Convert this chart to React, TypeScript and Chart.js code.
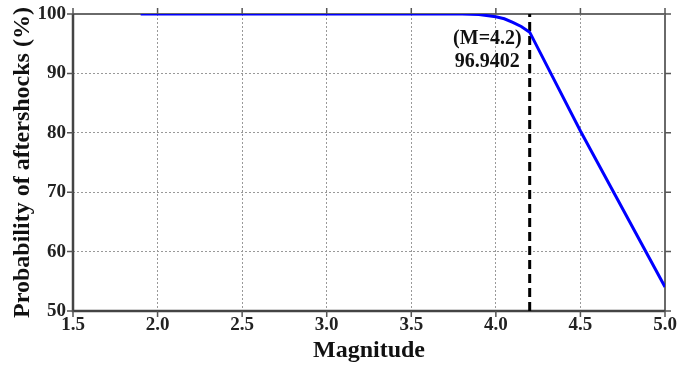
import React, { useEffect, useRef } from "react";
import { Chart, registerables } from "chart.js";

Chart.register(...registerables);

// Data
const magnitudes = [1.9, 2.5, 3.0, 3.5, 3.7, 3.8, 3.9, 4.0, 4.05, 4.1, 4.15, 4.2, 4.5, 5.0];
const probabilities = [100, 100, 100, 100, 100, 99.98, 99.9, 99.55, 99.2, 98.6, 97.9, 96.94, 80.3, 54.05];
const markerMagnitude = 4.2;
const markerRange = [50, 100];
const annotationLines = ["(M=4.2)", "96.9402"];
const xTicks = [1.5, 2.0, 2.5, 3.0, 3.5, 4.0, 4.5, 5.0];
const yTicks = [50, 60, 70, 80, 90, 100];

const SERIF = "'Liberation Serif', 'Times New Roman', serif";

const framePlugin = {
  id: "frame",
  beforeDatasetsDraw(chart: any) {
    const { ctx, chartArea: a, scales } = chart;
    const xs = scales.x;
    const ys = scales.y;
    ctx.save();
    ctx.lineWidth = 2;
    ctx.strokeStyle = "#6a6a6a";
    ctx.beginPath();
    ctx.moveTo(a.left, a.top);
    ctx.lineTo(a.right, a.top);
    ctx.lineTo(a.right, a.bottom);
    ctx.stroke();
    ctx.strokeStyle = "#444";
    ctx.lineWidth = 2.5;
    ctx.beginPath();
    ctx.moveTo(a.left, a.top);
    ctx.lineTo(a.left, a.bottom);
    ctx.lineTo(a.right, a.bottom);
    ctx.stroke();
    ctx.lineWidth = 1.5;
    ctx.strokeStyle = "#555";
    const L = 6;
    ctx.beginPath();
    xTicks.forEach((v) => {
      const px = xs.getPixelForValue(v);
      ctx.moveTo(px, a.bottom);
      ctx.lineTo(px, a.bottom + L);
      ctx.moveTo(px, a.top);
      ctx.lineTo(px, a.top - L);
    });
    yTicks.forEach((v) => {
      const py = ys.getPixelForValue(v);
      ctx.moveTo(a.left, py);
      ctx.lineTo(a.left - L, py);
      ctx.moveTo(a.right, py);
      ctx.lineTo(a.right + L, py);
    });
    ctx.stroke();
    ctx.restore();
  },
  afterDraw(chart: any) {
    const { ctx, scales } = chart;
    const xs = scales.x;
    const ys = scales.y;
    ctx.save();
    ctx.fillStyle = "#111";
    ctx.font = `bold 20px ${SERIF}`;
    ctx.textAlign = "right";
    ctx.textBaseline = "middle";
    const tx = xs.getPixelForValue(markerMagnitude) - 8;
    ctx.fillText(annotationLines[0], tx, ys.getPixelForValue(95.8));
    ctx.fillText(annotationLines[1], tx - 2, ys.getPixelForValue(91.9));
    ctx.restore();
  },
};

export default function App() {
  const ref = useRef<HTMLCanvasElement | null>(null);
  useEffect(() => {
    document.body.style.margin = "0";
    const canvas = ref.current;
    if (!canvas) return;
    const chart = new Chart(canvas, {
      type: "line",
      data: {
        datasets: [
          {
            data: magnitudes.map((m, i) => ({ x: m, y: probabilities[i] })),
            borderColor: "#0000ff",
            borderWidth: 3,
            pointRadius: 0,
            tension: 0,
            fill: false,
          },
          {
            data: markerRange.map((v) => ({ x: markerMagnitude, y: v })),
            borderColor: "#000",
            borderWidth: 3,
            borderDash: [9, 5],
            pointRadius: 0,
            fill: false,
          },
        ],
      },
      options: {
        animation: false,
        responsive: false,
        devicePixelRatio: 1,
        layout: { padding: { top: 14, right: 13, left: 0, bottom: 0 } },
        plugins: { legend: { display: false }, tooltip: { enabled: false } },
        scales: {
          x: {
            type: "linear",
            min: 1.5,
            max: 5.0,
            afterBuildTicks: (s: any) => {
              s.ticks = xTicks.map((v) => ({ value: v }));
            },
            afterFit: (s: any) => {
              s.height = 55;
              s.paddingLeft = 0;
              s.paddingRight = 0;
            },
            ticks: {
              callback: (v: any) => Number(v).toFixed(1),
              font: { family: SERIF, size: 19, weight: "bold" },
              color: "#222",
              padding: 3,
              maxRotation: 0,
            },
            grid: { color: "#999", lineWidth: 1, drawTicks: false },
            border: { display: false, dash: [2, 2] },
            title: {
              display: true,
              text: "Magnitude",
              font: { family: SERIF, size: 24, weight: "bold" },
              color: "#111",
              padding: { top: 0, bottom: 1 },
            },
          },
          y: {
            type: "linear",
            min: 50,
            max: 100,
            afterBuildTicks: (s: any) => {
              s.ticks = yTicks.map((v) => ({ value: v }));
            },
            afterFit: (s: any) => {
              s.width = 73;
              s.paddingTop = 0;
              s.paddingBottom = 0;
            },
            ticks: {
              font: { family: SERIF, size: 19, weight: "bold" },
              color: "#222",
              padding: 7,
            },
            grid: { color: "#999", lineWidth: 1, drawTicks: false },
            border: { display: false, dash: [2, 2] },
            title: {
              display: true,
              text: "Probability of aftershocks (%)",
              font: { family: SERIF, size: 24, weight: "bold" },
              color: "#111",
              padding: { top: 8, bottom: 0 },
            },
          },
        },
      },
      plugins: [framePlugin],
    } as any);
    return () => chart.destroy();
  }, []);
  return <canvas ref={ref} width={678} height={366} style={{ display: "block" }} />;
}
